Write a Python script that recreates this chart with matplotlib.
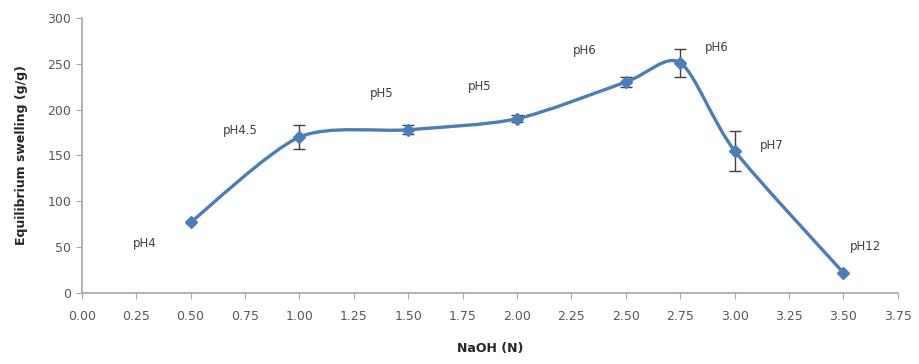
import numpy as np
import matplotlib.pyplot as plt
from matplotlib.path import Path
from matplotlib.patches import PathPatch


naoh = [0.5, 1.0, 1.5, 2.0, 2.5, 2.75, 3.0, 3.5]
swelling = [77, 170, 178, 190, 230, 251, 155, 22]
swelling_err = [0, 13, 5, 4, 5, 15, 22, 0]

ph_labels = ["pH4", "pH4.5", "pH5", "pH5", "pH6", "pH6", "pH7", "pH12"]
ph_label_x = [0.29, 0.73, 1.38, 1.83, 2.31, 2.92, 3.17, 3.60]
ph_label_y = [54, 177, 218, 225, 264, 268, 161, 51]

x_ticks = [0.00, 0.25, 0.50, 0.75, 1.00, 1.25, 1.50, 1.75, 2.00,
           2.25, 2.50, 2.75, 3.00, 3.25, 3.50, 3.75]
y_ticks = [0, 50, 100, 150, 200, 250, 300]

LINE_COLOR = "#4a7ebb"
AXIS_COLOR = "#a6a6a6"
TEXT_COLOR = "#595959"


def smooth_path(xs, ys, tension=0.4):
    # Excel-style smoothed line: cardinal spline as cubic Bezier segments
    pts = np.column_stack([xs, ys]).astype(float)
    n = len(pts)
    verts = [pts[0]]
    codes = [Path.MOVETO]
    for i in range(n - 1):
        p0 = pts[i - 1] if i > 0 else pts[i]
        p1 = pts[i]
        p2 = pts[i + 1]
        p3 = pts[i + 2] if i + 2 < n else pts[i + 1]
        c1 = p1 + (p2 - p0) * tension / 3.0
        c2 = p2 - (p3 - p1) * tension / 3.0
        verts += [c1, c2, p2]
        codes += [Path.CURVE4] * 3
    return Path(verts, codes)


fig, ax = plt.subplots(figsize=(9.19, 3.64), dpi=100)
fig.subplots_adjust(left=0.089, right=0.977, bottom=0.195, top=0.951)

ax.add_patch(PathPatch(smooth_path(naoh, swelling), facecolor="none",
                       edgecolor=LINE_COLOR, linewidth=2.4, zorder=2))

err = [e if e > 0 else np.nan for e in swelling_err]
ax.errorbar(naoh, swelling, yerr=err, fmt="none", ecolor="#404040",
            elinewidth=1.0, capsize=4, capthick=1.0, zorder=3)
ax.plot(naoh, swelling, linestyle="none", marker="D", markersize=6,
        color=LINE_COLOR, zorder=4)

for lab, lx, ly in zip(ph_labels, ph_label_x, ph_label_y):
    ax.text(lx, ly, lab, fontsize=8.5, color="#404040",
            ha="center", va="center")

ax.set_xlim(0, 3.75)
ax.set_ylim(0, 300)
ax.set_xticks(x_ticks)
ax.set_xticklabels([f"{t:.2f}" for t in x_ticks])
ax.set_yticks(y_ticks)

for side in ("top", "right"):
    ax.spines[side].set_visible(False)
for side in ("left", "bottom"):
    ax.spines[side].set_color(AXIS_COLOR)
    ax.spines[side].set_linewidth(1.2)

ax.tick_params(axis="both", colors=AXIS_COLOR, labelcolor=TEXT_COLOR,
               labelsize=9, length=4, direction="out")
ax.tick_params(axis="x", pad=8)

ax.set_xlabel("NaOH (N)", fontsize=9, fontweight="bold", color="#262626",
              labelpad=14)
ax.set_ylabel("Equilibrium swelling (g/g)", fontsize=9, fontweight="bold",
              color="#262626", labelpad=14)

fig.savefig("out.png", dpi=100)
